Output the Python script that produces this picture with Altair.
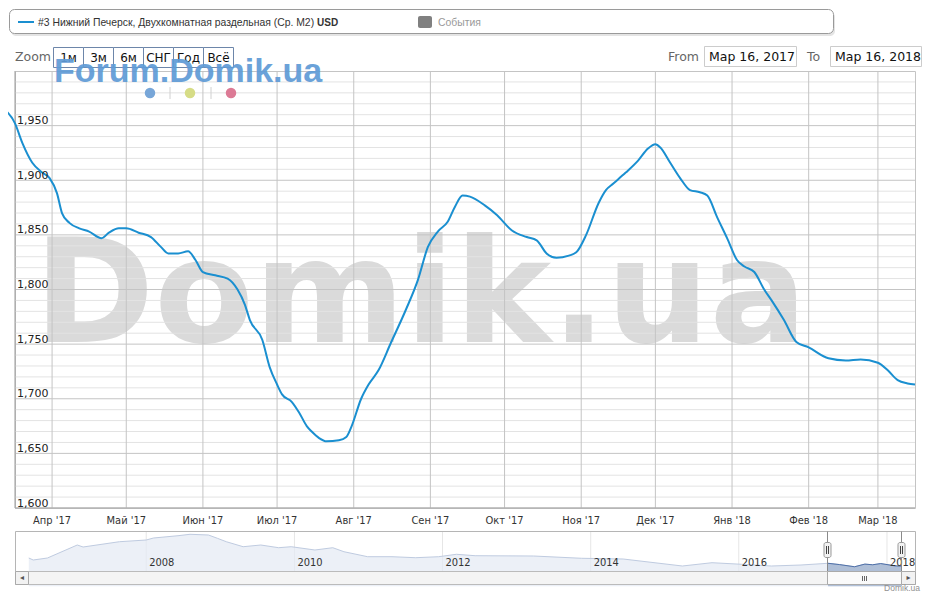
import altair as alt
import pandas as pd

# ---------------- data ----------------
main_dates = [
    "2017-03-11", "2017-03-17", "2017-03-20", "2017-03-24", "2017-03-28", "2017-03-31",
    "2017-04-03", "2017-04-05", "2017-04-08", "2017-04-12", "2017-04-16", "2017-04-21", "2017-04-24", "2017-04-28",
    "2017-05-01", "2017-05-06", "2017-05-11", "2017-05-15", "2017-05-18", "2017-05-22", "2017-05-26", "2017-05-29",
    "2017-06-01", "2017-06-06", "2017-06-11", "2017-06-15", "2017-06-18", "2017-06-20", "2017-06-25", "2017-06-28",
    "2017-07-01", "2017-07-03", "2017-07-07", "2017-07-10", "2017-07-13", "2017-07-15", "2017-07-18", "2017-07-21", "2017-07-26", "2017-07-29", "2017-07-31",
    "2017-08-04", "2017-08-07", "2017-08-11", "2017-08-16", "2017-08-22", "2017-08-27", "2017-08-31",
    "2017-09-04", "2017-09-08", "2017-09-11", "2017-09-14", "2017-09-17", "2017-09-23", "2017-09-28",
    "2017-10-04", "2017-10-10", "2017-10-14", "2017-10-18", "2017-10-22", "2017-10-27", "2017-10-30",
    "2017-11-03", "2017-11-08", "2017-11-11", "2017-11-14", "2017-11-19", "2017-11-24", "2017-11-28",
    "2017-12-01", "2017-12-03", "2017-12-07", "2017-12-11", "2017-12-15", "2017-12-19", "2017-12-22", "2017-12-26", "2017-12-30",
    "2018-01-03", "2018-01-06", "2018-01-10", "2018-01-14", "2018-01-17", "2018-01-22", "2018-01-27",
    "2018-02-01", "2018-02-09", "2018-02-16", "2018-02-22",
    "2018-03-01", "2018-03-05", "2018-03-09", "2018-03-13", "2018-03-16",
]
main_values = [
    1967, 1952, 1934, 1916, 1907, 1902,
    1888, 1870, 1861, 1856, 1853, 1847, 1852, 1856,
    1856, 1852, 1848, 1839, 1833, 1833, 1835, 1827,
    1816, 1813, 1810, 1800, 1786, 1772, 1754, 1729,
    1713, 1704, 1697, 1687, 1675, 1670, 1664, 1661, 1662, 1665, 1674,
    1700, 1713, 1726, 1751, 1781, 1809, 1839,
    1853, 1862, 1876, 1886, 1885, 1877, 1868,
    1854, 1848, 1845, 1833, 1829, 1831, 1834,
    1850, 1879, 1891, 1897, 1907, 1918, 1929,
    1933, 1930, 1916, 1902, 1891, 1889, 1886, 1866, 1847,
    1827, 1821, 1816, 1800, 1790, 1772, 1752,
    1747, 1737, 1735, 1736,
    1733, 1726, 1717, 1714, 1713,
]

month_dates = ["2017-04-01", "2017-05-01", "2017-06-01", "2017-07-01", "2017-08-01", "2017-09-01",
               "2017-10-01", "2017-11-01", "2017-12-01", "2018-01-01", "2018-02-01", "2018-03-01"]
month_labels = ["Апр '17", "Май '17", "Июн '17", "Июл '17", "Авг '17", "Сен '17",
                "Окт '17", "Ноя '17", "Дек '17", "Янв '18", "Фев '18", "Мар '18"]

y_major = [1600, 1650, 1700, 1750, 1800, 1850, 1900, 1950]
y_major_labels = ["1,600", "1,650", "1,700", "1,750", "1,800", "1,850", "1,900", "1,950"]
y_minor = [1610, 1620, 1630, 1640, 1660, 1670, 1680, 1690, 1710, 1720, 1730, 1740,
           1760, 1770, 1780, 1790, 1810, 1820, 1830, 1840, 1860, 1870, 1880, 1890,
           1910, 1920, 1930, 1940, 1960, 1970, 1980, 1990]

nav_dates = ["2006-06-01", "2006-06-23", "2006-09-01", "2007-01-26", "2007-02-24", "2007-08-22",
             "2008-01-01", "2008-02-06", "2008-06-06", "2008-08-04", "2008-11-03", "2008-12-17",
             "2009-01-30", "2009-04-23", "2009-07-19", "2009-10-15", "2009-12-16", "2010-04-12",
             "2010-07-09", "2010-09-02", "2010-12-28", "2011-04-27", "2011-08-22", "2011-12-13",
             "2012-03-10", "2012-06-10", "2013-03-25", "2013-11-17", "2014-06-10", "2015-03-29",
             "2015-08-22", "2016-01-15", "2016-06-10", "2016-11-03", "2017-03-16", "2017-05-11",
             "2017-07-25", "2017-09-14", "2017-10-22", "2017-12-01", "2018-02-09", "2018-03-16"]
nav_values = [2405, 2235, 2405, 3510, 3340, 3790,
              3935, 4105, 4300, 4420, 4360, 4080,
              3790, 3365, 3510, 3280, 3365, 3085,
              3280, 2940, 2515, 2515, 2430, 2515,
              2720, 2600, 2575, 2380, 2320, 1725,
              2005, 1870, 1725, 1810, 1955, 1848,
              1662, 1886, 1829, 1933, 1737, 1713]

nav_year_dates = ["2008-01-01", "2010-01-01", "2012-01-01", "2014-01-01", "2016-01-01", "2018-01-01"]
nav_year_labels = ["2008", "2010", "2012", "2014", "2016", "2018"]

main_df = pd.DataFrame({"date": main_dates, "value": main_values})
month_df = pd.DataFrame({"date": month_dates, "label": month_labels})
ymaj_df = pd.DataFrame({"v": y_major, "label": y_major_labels})
ymin_df = pd.DataFrame({"v": y_minor})
nav_df = pd.DataFrame({"date": nav_dates, "value": nav_values})
navyear_df = pd.DataFrame({"date": nav_year_dates, "label": nav_year_labels})

W, H = 900, 437
FONT = "DejaVu Sans"
COND = "DejaVu Sans Condensed, Liberation Sans Narrow, Liberation Sans, sans-serif"
ONE = alt.Data(values=[{}])

x_main = alt.Scale(type="utc",
                   domain=[alt.DateTime(year=2017, month=3, date=17, utc=True),
                           alt.DateTime(year=2018, month=3, date=16, utc=True)])
y_main = alt.Scale(domain=[1600, 2000], zero=False, nice=False)
x_nav = alt.Scale(type="utc",
                  domain=[alt.DateTime(year=2006, month=3, date=25, utc=True),
                          alt.DateTime(year=2018, month=3, date=16, utc=True)],
                  range=[0, 887])
y_nav = alt.Scale(domain=[1300, 4700], range=[500, 460], zero=False, nice=False)


def d_text(text, x, y, **kw):
    kw.setdefault("align", "left")
    kw.setdefault("baseline", "middle")
    return alt.Chart(ONE).mark_text(text=text, **kw).encode(x=alt.value(x), y=alt.value(y))


def d_rect(x, x2, y, y2, **kw):
    return alt.Chart(ONE).mark_rect(**kw).encode(
        x=alt.value(x), x2=alt.value(x2), y=alt.value(y), y2=alt.value(y2))


def d_rule(x, x2, y, y2, **kw):
    return alt.Chart(ONE).mark_rule(**kw).encode(
        x=alt.value(x), x2=alt.value(x2), y=alt.value(y), y2=alt.value(y2))


deco = []
# legend box with shadow
deco.append(d_rect(-4, 820, -59, -35, fill="#e4e4e4", cornerRadius=5))
deco.append(d_rect(-5.5, 818.5, -61.5, -37.5, fill="white", stroke="#9a9a9a",
                   strokeWidth=1, cornerRadius=5))
deco.append(d_rule(3, 19, -49, -49, color="#1a8fd0", strokeWidth=2))
deco.append(d_text("#3 Нижний Печерск, Двухкомнатная раздельная (Ср. М2)", 23, -48.5,
                   font="Liberation Sans", fontSize=10.4, color="#333333"))
deco.append(d_text("USD", 302, -48.5, font="Liberation Sans", fontSize=10,
                   fontWeight="bold", color="#333333"))
deco.append(d_rect(403, 417, -55, -43, fill="#808080", cornerRadius=2))
deco.append(d_text("События", 423, -48.5, font="Liberation Sans", fontSize=10.4, color="#999999"))

# zoom buttons
deco.append(d_text("Zoom", 0, -14, font=FONT, fontSize=12.5, color="#666666"))
btn_labels = ["1м", "3м", "6м", "СНГ", "Год", "Всё"]
for i, lab in enumerate(btn_labels):
    x0 = 38.5 + 30 * i
    deco.append(d_rect(x0, x0 + 30, -23.5, -3.5, fill="white", stroke="#6d86aa", strokeWidth=1))
    deco.append(d_text(lab, x0 + 15, -13, align="center", font=FONT, fontSize=12,
                       color="#111111"))

# from / to
deco.append(d_text("From", 653, -14, font=FONT, fontSize=12.5, color="#666666"))
deco.append(d_rect(689.5, 781.5, -24.5, -4.5, fill="white", stroke="#cccccc", strokeWidth=1))
deco.append(d_text("Мар 16, 2017", 694, -14, font=FONT, fontSize=12.5, color="#111111"))
deco.append(d_text("To", 792, -14, font=FONT, fontSize=12.5, color="#666666"))
deco.append(d_rect(815.5, 906.5, -24.5, -4.5, fill="white", stroke="#cccccc", strokeWidth=1))
deco.append(d_text("Мар 16, 2018", 820, -14, font=FONT, fontSize=12.5, color="#111111"))

# plot watermark
watermark = d_text("Domik.ua", 19, 271, baseline="alphabetic", font=FONT, fontSize=145,
                   fontWeight="bold", color="#dadada")

# gridlines
minor_grid = alt.Chart(ymin_df).mark_rule(color="#e3e3e3", strokeWidth=1).encode(
    y=alt.Y("v:Q", scale=y_main, axis=None), x=alt.value(0), x2=alt.value(W))
major_grid = alt.Chart(ymaj_df).mark_rule(color="#c4c4c4", strokeWidth=1).encode(
    y=alt.Y("v:Q", scale=y_main, axis=None), x=alt.value(0), x2=alt.value(W))
month_grid = alt.Chart(month_df).mark_rule(color="#c4c4c4", strokeWidth=1).encode(
    x=alt.X("date:T", scale=x_main, axis=None), y=alt.value(0), y2=alt.value(H))
left_line = d_rule(0, 0, 0, H, color="#9a9a9a", strokeWidth=1)
bottom_line = d_rule(0, W, H, H, color="#a8a8a8", strokeWidth=1)

line = alt.Chart(main_df).mark_line(color="#1a8fd0", strokeWidth=2, interpolate="monotone").encode(
    x=alt.X("date:T", scale=x_main, axis=None),
    y=alt.Y("value:Q", scale=y_main, axis=None))

y_labels = alt.Chart(ymaj_df).mark_text(align="left", baseline="alphabetic", dy=-1.5, font=FONT,
                                        fontSize=11, color="#222222").encode(
    y=alt.Y("v:Q", scale=y_main, axis=None), x=alt.value(2), text="label:N")
x_labels = alt.Chart(month_df).mark_text(align="center", baseline="middle", font=COND,
                                         fontSize=11, color="#333333").encode(
    x=alt.X("date:T", scale=x_main, axis=None), y=alt.value(450), text="label:N")

# forum watermark + dots
forum = [
    d_text("Forum.Domik.ua", 39, 11, baseline="alphabetic", font="Liberation Sans",
           fontSize=34, fontWeight="bold", color="#5f9bd6", opacity=0.92),
    alt.Chart(ONE).mark_point(filled=True, size=110, color="#77a6d8", opacity=1).encode(
        x=alt.value(135), y=alt.value(22)),
    alt.Chart(ONE).mark_point(filled=True, size=110, color="#d6dc86", opacity=1).encode(
        x=alt.value(175), y=alt.value(22)),
    alt.Chart(ONE).mark_point(filled=True, size=110, color="#dc7a95", opacity=1).encode(
        x=alt.value(216), y=alt.value(22)),
    d_rule(155, 155, 16, 28, color="#d0d0d0"),
    d_rule(196, 196, 16, 28, color="#d0d0d0"),
]

main_layer = alt.layer(*deco, watermark, minor_grid, major_grid, month_grid, left_line,
                       bottom_line, line, y_labels, x_labels, *forum)

# ---------------- navigator ----------------
nav_box = d_rect(0.5, 900.5, 460.5, 500.5, fill="white", stroke="#b5b5b5", strokeWidth=1)
nav_grid = alt.Chart(navyear_df).mark_rule(color="#e6e6e6", strokeWidth=1).encode(
    x=alt.X("date:T", scale=x_nav, axis=None), y=alt.value(461), y2=alt.value(500))
nav_area = alt.Chart(nav_df).mark_area(color="#e4e9f3", line={"color": "#bfcbe0", "strokeWidth": 1},
                                       interpolate="linear").encode(
    x=alt.X("date:T", scale=x_nav, axis=None),
    y=alt.Y("value:Q", scale=y_nav, axis=None), y2=alt.value(500))
nav_sel = alt.Chart(nav_df).transform_filter(
    "time(datum.date) >= utc(2017, 2, 16)"
).mark_area(color="#95a9c9", line={"color": "#4f70a8", "strokeWidth": 1}).encode(
    x=alt.X("date:T", scale=x_nav, axis=None),
    y=alt.Y("value:Q", scale=y_nav, axis=None), y2=alt.value(500))
nav_labels = alt.Chart(navyear_df).mark_text(align="left", baseline="middle", dx=3, font=COND,
                                             fontSize=11, color="#333333").encode(
    x=alt.X("date:T", scale=x_nav, axis=None), y=alt.value(492), text="label:N")

nav_deco = [
    d_rule(812.5, 812.5, 460.5, 500, color="#8a8a8a"),
    d_rule(886.5, 886.5, 460.5, 500, color="#8a8a8a"),
    # scrollbar
    d_rect(0.5, 900.5, 500.5, 513.5, fill="#f4f4f4", stroke="#bbbbbb", strokeWidth=1),
    d_rect(812.5, 886.5, 500.5, 513.5, fill="#fafafa", stroke="#aaaaaa", strokeWidth=1),
    d_rect(0.5, 13.5, 500.5, 513.5, fill="#f2f2f2", stroke="#aaaaaa", strokeWidth=1),
    d_rect(886.5, 900.5, 500.5, 513.5, fill="#f2f2f2", stroke="#aaaaaa", strokeWidth=1),
    d_text("◂", 7, 507, align="center", font=FONT, fontSize=8, color="#555555"),
    d_text("▸", 893.5, 507, align="center", font=FONT, fontSize=8, color="#555555"),
    d_rule(847.5, 847.5, 505, 510, color="#666666"),
    d_rule(849.5, 849.5, 505, 510, color="#666666"),
    d_rule(851.5, 851.5, 505, 510, color="#666666"),
    # handles
    d_rect(809, 816, 471.5, 486.5, fill="#f2f2f2", stroke="#999999", strokeWidth=1, cornerRadius=2),
    d_rule(811.5, 811.5, 475, 483, color="#444444"),
    d_rule(813.5, 813.5, 475, 483, color="#444444"),
    d_rect(883, 890, 471.5, 486.5, fill="#f2f2f2", stroke="#999999", strokeWidth=1, cornerRadius=2),
    d_rule(885.5, 885.5, 475, 483, color="#444444"),
    d_rule(887.5, 887.5, 475, 483, color="#444444"),
    d_text("Domik.ua", 905, 520, align="right", baseline="alphabetic", font="Liberation Sans",
           fontSize=8.5, color="#909090"),
]

nav_layer = alt.layer(nav_box, nav_grid, nav_area, nav_sel, nav_labels, *nav_deco)

chart = alt.layer(main_layer, nav_layer).resolve_scale(
    x="independent", y="independent"
).properties(
    width=W, height=H, autosize="none",
    padding={"left": 7, "top": 63, "right": 8, "bottom": 84},
).configure_view(stroke="#c4c4c4", strokeWidth=1)

chart.save("out.html", embed_options={"renderer": "svg", "actions": False})
